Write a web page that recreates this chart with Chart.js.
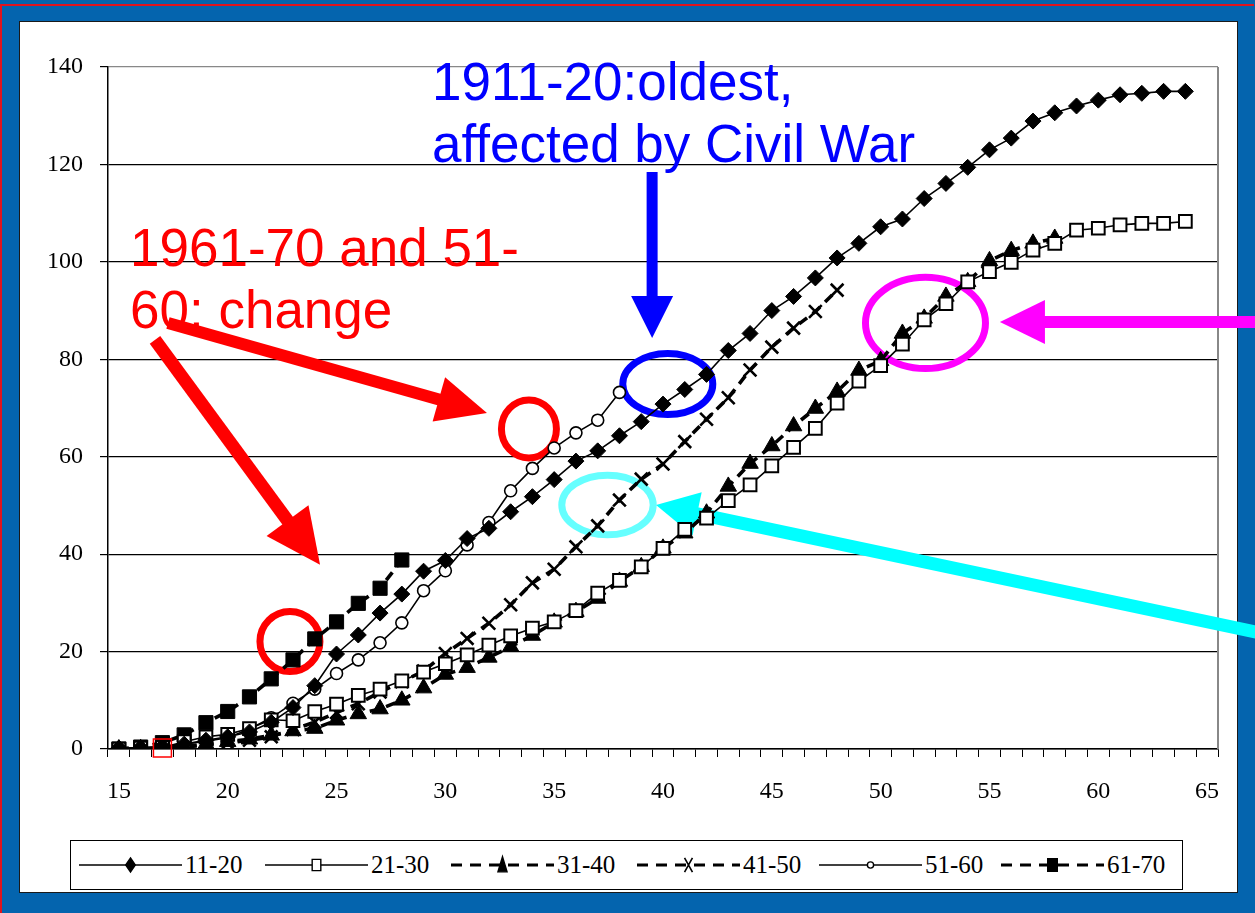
<!DOCTYPE html>
<html><head><meta charset="utf-8">
<script src="https://cdn.jsdelivr.net/npm/chart.js@4.4.1/dist/chart.umd.min.js"></script>
<style>
html,body{margin:0;padding:0;}
body{width:1255px;height:913px;position:relative;overflow:hidden;background:#0464ae;}
#frame{position:absolute;left:0px;top:4px;width:1254px;height:909px;border:2px solid #e0141e;border-bottom:none;border-right:none;box-sizing:border-box;}
#panel{position:absolute;left:19px;top:21px;width:1219px;height:872px;background:#fff;border:1px solid #1a1a1a;box-sizing:border-box;}
#chart{position:absolute;left:0;top:0;}
.note{position:absolute;font-family:"Liberation Sans",Arial,sans-serif;font-size:53px;line-height:62px;white-space:nowrap;}
#legend{position:absolute;left:70px;top:840px;width:1113px;height:50px;border:1px solid #000;box-sizing:border-box;background:#fff;}
.li{position:absolute;top:0;height:48px;display:flex;align-items:center;}
.lt{font-family:"Liberation Serif","Times New Roman",serif;font-size:25px;color:#000;margin-left:3px;}
</style></head>
<body>
<div id="frame"></div>
<div id="panel"></div>
<canvas id="chart" width="1255" height="913"></canvas>
<div class="note" style="left:432px;top:51px;color:#0000ff;">1911-20:oldest,<br>affected by Civil War</div>
<div class="note" style="left:130px;top:217px;color:#ff0000;">1961-70 and 51-<br>60: change</div>
<div id="legend"></div>
<script>
// ---- data ----
const ageLabels = [15,16,17,18,19,20,21,22,23,24,25,26,27,28,29,30,31,32,33,34,35,36,37,38,39,40,41,42,43,44,45,46,47,48,49,50,51,52,53,54,55,56,57,58,59,60,61,62,63,64,65];
const yTicks = [0,20,40,60,80,100,120,140];
const seriesNames = ['11-20','21-30','31-40','41-50','51-60','61-70'];
const s1120 = [0.2,0.3,0.5,1,1.8,2.5,3.5,5.5,8.5,13,19.5,23.4,27.9,31.8,36.5,38.7,43.2,45.3,48.7,51.8,55.3,59.1,61.2,64.3,67.2,70.8,73.8,76.9,81.8,85.3,90,92.9,96.7,100.8,103.8,107.2,108.8,113,116.1,119.4,123,125.4,128.9,130.6,132,133.2,134.3,134.6,135,135];
const s2130 = [0,0.2,0.3,1.5,2.5,3,4.2,6,5.8,7.7,9.2,11,12.3,14,15.8,17.5,19.3,21.3,23.2,24.8,26.1,28.4,32,34.6,37.4,41.2,45.1,47.4,51,54.2,58.1,61.9,65.8,71,75.5,78.7,83.1,88.1,91.4,95.9,98,99.9,102.4,103.8,106.5,106.9,107.6,107.9,107.9,108.3];
const s3140 = [0,0,0.1,0.5,1,1.5,2,2.8,3.7,4.2,5.9,7.2,8.2,10,12.5,15.3,16.7,18.8,21,23.3,26,28.2,30.9,34.4,37.4,41.2,44.3,48.4,53.9,58.6,62.2,66.3,69.9,73.4,77.7,79.7,85.3,88.4,92.9,95.9,100.2,102.3,103.8,104.8];
const s4150 = [0,0,0.2,0.4,0.8,1.2,1.8,2.5,4,5.5,7.5,9.3,11.7,13.8,16,19.6,22.7,25.8,29.6,34.1,36.9,41.5,45.8,51.1,55.4,58.5,63.1,67.7,72.1,77.8,82.5,86.4,89.8,94.2];
const s5160 = [0,0.2,0.5,1,1.6,2.3,4.1,6.4,9.4,12.3,15.5,18.3,21.8,25.9,32.5,36.6,41.9,46.5,53,57.6,61.8,64.9,67.5,73.2];
const s6170 = [0,0.4,1.3,2.9,5.4,7.7,10.7,14.4,18.3,22.6,26.1,29.9,33,38.8];

// ---- styles ----
const styles = [
  {style:'rectRot', r:8, fill:'#000', bw:1, dash:[], lw:1.6},
  {style:'rect', r:9, fill:'#fff', bw:2, dash:[], lw:1.6},
  {style:'triangle', r:9.5, fill:'#000', bw:1, dash:[10,7], lw:3.6},
  {style:'crossRot', r:9, fill:'#000', bw:2.6, dash:[10,7], lw:3.6},
  {style:'circle', r:6, fill:'#fff', bw:1.6, dash:[], lw:1.6},
  {style:'rect', r:10, fill:'#000', bw:1, dash:[10,7], lw:3.6}
];
const allSeries = [s1120,s2130,s3140,s4150,s5160,s6170];

const datasets = allSeries.map((d,i)=>({
  label: seriesNames[i], data: d,
  borderColor:'#000', borderWidth: styles[i].lw, borderDash: styles[i].dash,
  backgroundColor: styles[i].fill, pointStyle: styles[i].style, pointRadius: styles[i].r,
  pointBackgroundColor: styles[i].fill, pointBorderColor:'#000', pointBorderWidth: styles[i].bw,
  tension:0, fill:false
}));

// ---- annotations (in data coordinates: age, value) ----
const ellipses = [
  {a:33.84, v:65.7, rx:27.5, ry:29, color:'#ff0000'},
  {a:22.86, v:22.07, rx:30, ry:30, color:'#ff0000'},
  {a:40.22, v:74.93, rx:45, ry:30.6, color:'#0000ff'},
  {a:37.45, v:50.09, rx:45.7, ry:29.8, color:'#66ffff'},
  {a:52.06, v:87.46, rx:60, ry:45.6, color:'#ff00ff'}
];
const arrows = [
  {from:[39.5,118.46], to:[39.5,84.38], color:'#0000ff', shaft:11, hl:42, hw:21},
  {from:[17.256,87.46], to:[31.912,68.98], color:'#ff0000', shaft:12, hl:50, hw:23},
  {from:[16.659,83.97], to:[24.243,37.80], color:'#ff0000', shaft:13, hl:55, hw:26},
  {from:[67.43,23.81], to:[39.68,50.09], color:'#00ffff', shaft:13, hl:42, hw:22},
  {from:[67.43,87.66], to:[55.48,87.66], color:'#ff00ff', shaft:12, hl:45, hw:22}
];

function mapper(chart){
  const xs = chart.scales.x, ys = chart.scales.y;
  const x0 = xs.getPixelForValue(0), step = xs.getPixelForValue(1) - x0;
  return {X: a => x0 + (a - ageLabels[0]) * step, Y: v => ys.getPixelForValue(v)};
}
function drawArrow(ctx,x1,y1,x2,y2,color,shaft,hl,hw){
  const ang = Math.atan2(y2-y1,x2-x1), c=Math.cos(ang), s=Math.sin(ang);
  const bx = x2 - hl*c, by = y2 - hl*s;
  ctx.save();
  ctx.strokeStyle=color; ctx.lineWidth=shaft; ctx.lineCap='butt'; ctx.setLineDash([]);
  ctx.beginPath(); ctx.moveTo(x1,y1); ctx.lineTo(bx+2*c,by+2*s); ctx.stroke();
  ctx.fillStyle=color; ctx.beginPath(); ctx.moveTo(x2,y2);
  ctx.lineTo(bx + hw*s, by - hw*c); ctx.lineTo(bx - hw*s, by + hw*c); ctx.closePath(); ctx.fill();
  ctx.restore();
}
const annoPlugin = {
  id:'anno',
  beforeDatasetsDraw(chart){
    const ctx = chart.ctx, {X,Y} = mapper(chart), ca = chart.chartArea;
    ctx.save();
    ctx.strokeStyle='#888'; ctx.lineWidth=2;
    ctx.beginPath(); ctx.moveTo(ca.right, ca.top); ctx.lineTo(ca.right, ca.bottom); ctx.stroke();
    ellipses.forEach(e=>{
      ctx.strokeStyle=e.color; ctx.lineWidth=7;
      ctx.beginPath(); ctx.ellipse(X(e.a), Y(e.v), e.rx, e.ry, 0, 0, Math.PI*2); ctx.stroke();
    });
    arrows.forEach(r=>drawArrow(ctx, X(r.from[0]), Y(r.from[1]), X(r.to[0]), Y(r.to[1]), r.color, r.shaft, r.hl, r.hw));
    ctx.restore();
  },
  afterDraw(chart){
    const ctx = chart.ctx, {X,Y} = mapper(chart);
    ctx.save();
    ctx.strokeStyle='#ff0000'; ctx.lineWidth=1.5;
    ctx.strokeRect(X(17)-9, Y(0)-10, 18, 18);
    ctx.restore();
  }
};

const tickFont = {family:'"Liberation Serif","Times New Roman",serif', size:24};
new Chart(document.getElementById('chart'), {
  type:'line',
  data:{labels: ageLabels, datasets},
  options:{
    responsive:false, animation:false, events:[],
    layout:{padding:{left:0, top:67, right:37, bottom:104}},
    plugins:{legend:{display:false}, tooltip:{enabled:false}},
    scales:{
      x:{
        type:'category', offset:true,
        grid:{offset:true, drawOnChartArea:false, drawTicks:true, tickLength:8, color:'#000', lineWidth:1},
        border:{display:true, color:'#000', width:1.5},
        ticks:{autoSkip:false, maxRotation:0, minRotation:0, color:'#000', font:tickFont, padding:20,
          callback:(v,i)=> (ageLabels[i] % 5 === 0) ? String(ageLabels[i]) : ''},
        afterFit: s => { s.height = 60; }
      },
      y:{
        min:yTicks[0], max:yTicks[yTicks.length-1],
        afterBuildTicks: s => { s.ticks = yTicks.map(v=>({value:v})); },
        grid:{color: c => (c.tick && c.tick.value === 140) ? '#888' : '#000', tickColor:'#000', lineWidth:1.2, tickLength:8},
        border:{display:true, color:'#000', width:1.5},
        ticks:{color:'#000', font:tickFont, padding:17},
        afterFit: s => { s.width = 108; }
      }
    }
  },
  plugins:[annoPlugin]
});

// ---- legend (HTML, samples drawn on small canvases) ----
const legendX = [8,194,380,566,748,930];
const legend = document.getElementById('legend');
seriesNames.forEach((name,i)=>{
  const item = document.createElement('div'); item.className='li'; item.style.left = legendX[i]+'px';
  const cv = document.createElement('canvas'); cv.width=103; cv.height=30;
  const g = cv.getContext('2d'); const st = styles[i];
  g.strokeStyle='#000'; g.lineWidth = st.dash.length ? 3 : 1.5; g.setLineDash(st.dash.length ? [11,8] : []);
  g.beginPath(); g.moveTo(0,15); g.lineTo(103,15); g.stroke(); g.setLineDash([]);
  const cx=51.5, cy=15, r=st.r*0.8;
  g.fillStyle=st.fill; g.lineWidth = 1.4;
  g.beginPath();
  if(st.style==='rectRot'){ g.moveTo(cx,cy-r*1.1); g.lineTo(cx+r*0.75,cy); g.lineTo(cx,cy+r*1.1); g.lineTo(cx-r*0.75,cy); g.closePath(); g.fill(); g.stroke(); }
  else if(st.style==='rect'){ const h=r*0.6; g.rect(cx-h,cy-h*1.3,2*h,2.6*h); g.fill(); g.stroke(); }
  else if(st.style==='triangle'){ g.moveTo(cx,cy-r*1.1); g.lineTo(cx+r*0.6,cy+r*0.9); g.lineTo(cx-r*0.6,cy+r*0.9); g.closePath(); g.fill(); g.stroke(); }
  else if(st.style==='crossRot'){ g.lineWidth=1.6; g.moveTo(cx-r*0.55,cy-r); g.lineTo(cx+r*0.55,cy+r); g.moveTo(cx+r*0.55,cy-r); g.lineTo(cx-r*0.55,cy+r); g.stroke(); }
  else { g.arc(cx,cy,r*0.65,0,Math.PI*2); g.fill(); g.stroke(); }
  const t = document.createElement('span'); t.className='lt'; t.textContent=name;
  item.appendChild(cv); item.appendChild(t); legend.appendChild(item);
});
</script>
</body></html>
